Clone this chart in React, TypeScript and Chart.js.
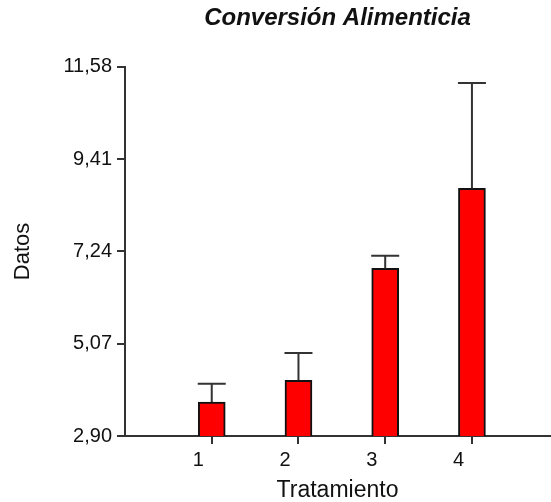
import React, { useEffect, useRef } from "react";
import { Chart, registerables } from "chart.js";

Chart.register(...registerables);

const title = "Conversión Alimenticia";
const xTitle = "Tratamiento";
const yTitle = "Datos";
const categories = [1, 2, 3, 4];
const means = [3.7, 4.21, 6.84, 8.72];
const errors = [0.43, 0.64, 0.3, 2.48];
const yTickValues = [2.9, 5.07, 7.24, 9.41, 11.58];

const FONT = "'Liberation Sans', Arial, sans-serif";
const TEXT = "#111";
const LINE = "#333";

const errorBarPlugin = {
  id: "errorBars",
  afterDatasetsDraw(chart: any) {
    const { ctx, scales } = chart;
    const xs = scales.x;
    const ys = scales.y;
    ctx.save();
    ctx.strokeStyle = LINE;
    ctx.lineWidth = 2;
    categories.forEach((c, i) => {
      const x = xs.getPixelForValue(c);
      const y0 = ys.getPixelForValue(means[i]);
      const y1 = ys.getPixelForValue(means[i] + errors[i]);
      ctx.beginPath();
      ctx.moveTo(x, y0);
      ctx.lineTo(x, y1);
      ctx.moveTo(x - 14, y1);
      ctx.lineTo(x + 14, y1);
      ctx.stroke();
    });
    ctx.restore();
  },
};

export default function App() {
  const ref = useRef<HTMLCanvasElement>(null);
  useEffect(() => {
    if (!ref.current) return;
    const chart = new Chart(ref.current, {
      type: "bar",
      data: {
        datasets: [
          {
            data: categories.map((c, i) => ({ x: c, y: means[i] })),
            backgroundColor: "#ff0000",
            borderColor: "#111",
            borderWidth: 2,
            barThickness: 27,
          },
        ],
      },
      options: {
        responsive: false,
        animation: false,
        layout: { padding: { left: 0, right: 1, top: 0, bottom: 0 } },
        plugins: {
          legend: { display: false },
          tooltip: { enabled: false },
          title: {
            display: true,
            text: title,
            fullSize: false,
            color: TEXT,
            font: { family: FONT, size: 24, weight: "bold", style: "italic" },
            padding: { top: 4, bottom: 34 },
          },
        },
        scales: {
          x: {
            type: "linear",
            min: 0,
            max: 4.9,
            offset: false,
            afterBuildTicks: (s: any) => {
              s.ticks = categories.map((v) => ({ value: v }));
            },
            afterFit: (s: any) => {
              s.height = 66;
            },
            grid: {
              offset: false,
              drawOnChartArea: false,
              drawTicks: true,
              tickLength: 8,
              color: LINE,
              lineWidth: 2,
            },
            border: { color: LINE, width: 2 },
            ticks: {
              color: TEXT,
              font: { family: FONT, size: 20 },
              padding: 4,
              labelOffset: -13.5,
              callback: (v: any) => String(v),
            },
            title: {
              display: true,
              text: xTitle,
              color: TEXT,
              font: { family: FONT, size: 23 },
              padding: { top: 0, bottom: -2 },
            },
          },
          y: {
            type: "linear",
            min: 2.9,
            max: 11.58,
            afterBuildTicks: (s: any) => {
              s.ticks = yTickValues.map((v) => ({ value: v }));
            },
            afterFit: (s: any) => {
              s.width = 125;
            },
            grid: {
              drawOnChartArea: false,
              drawTicks: true,
              tickLength: 8,
              color: LINE,
              lineWidth: 2,
            },
            border: { color: LINE, width: 2 },
            ticks: {
              color: TEXT,
              font: { family: FONT, size: 20 },
              padding: 5,
              callback: (v: any) => Number(v).toFixed(2).replace(".", ","),
            },
            title: {
              display: true,
              text: yTitle,
              color: TEXT,
              font: { family: FONT, size: 22 },
              padding: { top: 10, bottom: 0 },
            },
          },
        },
      },
      plugins: [errorBarPlugin],
    } as any);
    return () => chart.destroy();
  }, []);
  return (
    <div style={{ position: "absolute", left: 0, top: 0, width: 551, height: 502 }}>
      <canvas ref={ref} width={551} height={502} />
    </div>
  );
}
